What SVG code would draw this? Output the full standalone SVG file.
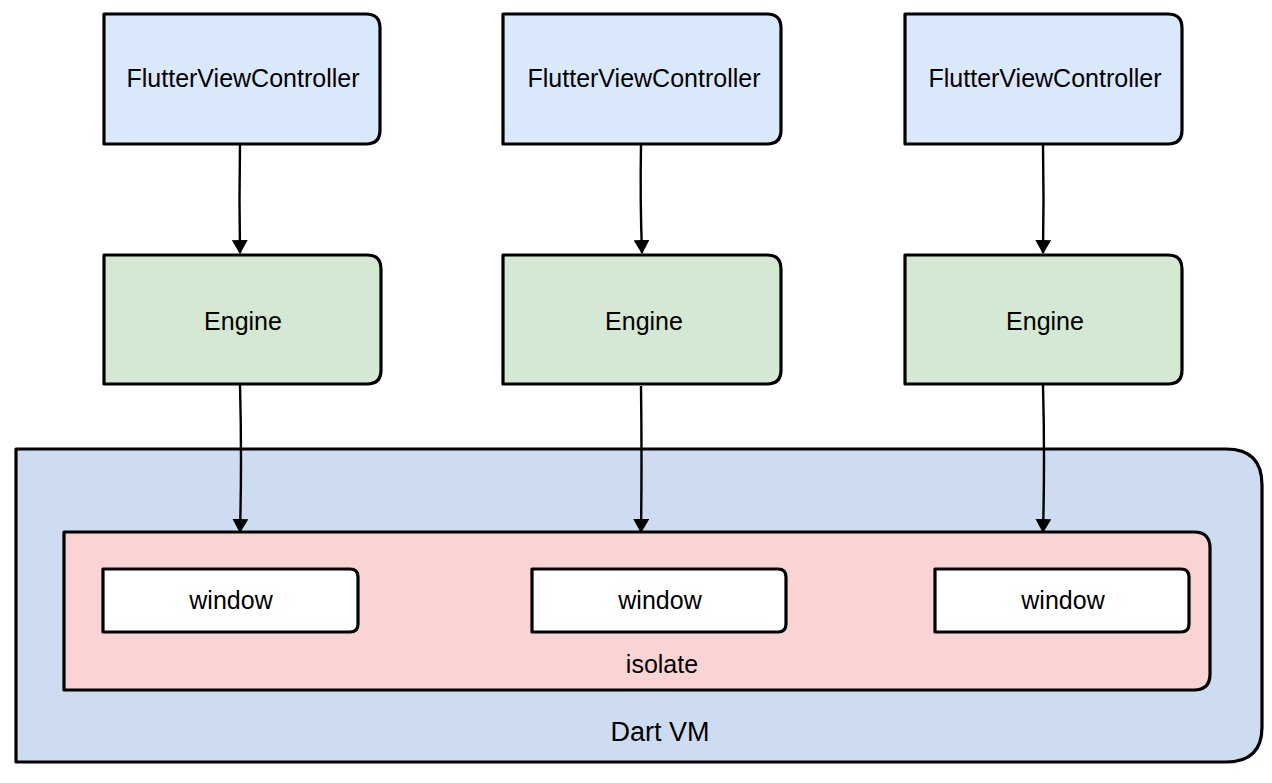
<svg xmlns="http://www.w3.org/2000/svg" width="1272" height="783" viewBox="0 0 1272 783">
<defs>
<marker id="ah" viewBox="0 0 14 16" refX="13" refY="8" markerWidth="14" markerHeight="16" markerUnits="userSpaceOnUse" orient="auto">
<path d="M0,0 L14,8 L0,16 Z" fill="#000"/>
</marker>
<style>
.box{stroke:#000;stroke-width:3.2;stroke-linejoin:round}
.fvc{fill:#dae8fc}
.eng{fill:#d5e8d4}
.vm{fill:#cddcf1}
.iso{fill:#fad4d4}
.win{fill:#fff}
.t{font-family:"Liberation Sans",Arial,sans-serif;font-size:25px;fill:#000;text-anchor:middle}
.c{stroke:#000;stroke-width:2.4;fill:none}
</style>
</defs>
<rect width="1272" height="783" fill="#fff"/>
<g id="dartvm">
<path class="box vm" d="M16,449 L1226,449 Q1262,449 1262,485 L1262,727 Q1262,762 1226,762 L16,762 Z"/>
<text class="t" x="660" y="741" style="font-size:27px">Dart VM</text>
</g>
<g id="isolate">
<path class="box iso" d="M64,532 L1194,532 Q1210,532 1210,548 L1210,674 Q1210,690 1194,690 L64,690 Z"/>
<text class="t" x="662" y="673">isolate</text>
</g>
<g id="window1">
<path class="box win" d="M103,569 L350,569 Q358,569 358,577 L358,624 Q358,632 350,632 L103,632 Z"/>
<text class="t" x="231" y="609">window</text>
</g>
<g id="window2">
<path class="box win" d="M532,569 L778,569 Q786,569 786,577 L786,624 Q786,632 778,632 L532,632 Z"/>
<text class="t" x="660" y="609">window</text>
</g>
<g id="window3">
<path class="box win" d="M935,569 L1181,569 Q1189,569 1189,577 L1189,624 Q1189,632 1181,632 L935,632 Z"/>
<text class="t" x="1063" y="609">window</text>
</g>
<g id="fvc1">
<path class="box fvc" d="M104,14 L366,14 Q380,14 380,28 L380,130 Q380,144 366,144 L104,144 Z"/>
<text class="t" x="243" y="87">FlutterViewController</text>
</g>
<g id="fvc2">
<path class="box fvc" d="M503,14 L767,14 Q781,14 781,28 L781,130 Q781,144 767,144 L503,144 Z"/>
<text class="t" x="644" y="87">FlutterViewController</text>
</g>
<g id="fvc3">
<path class="box fvc" d="M905,14 L1168,14 Q1182,14 1182,28 L1182,130 Q1182,144 1168,144 L905,144 Z"/>
<text class="t" x="1045" y="87">FlutterViewController</text>
</g>
<g id="engine1">
<path class="box eng" d="M104,255 L367,255 Q381,255 381,269 L381,370 Q381,384 367,384 L104,384 Z"/>
<text class="t" x="243" y="330">Engine</text>
</g>
<g id="engine2">
<path class="box eng" d="M503,255 L767,255 Q781,255 781,269 L781,370 Q781,384 767,384 L503,384 Z"/>
<text class="t" x="644" y="330">Engine</text>
</g>
<g id="engine3">
<path class="box eng" d="M905,255 L1168,255 Q1182,255 1182,269 L1182,370 Q1182,384 1168,384 L905,384 Z"/>
<text class="t" x="1045" y="330">Engine</text>
</g>
<g id="connectors">
<path class="c" marker-end="url(#ah)" d="M240,145 Q239,200 240,253"/>
<path class="c" marker-end="url(#ah)" d="M641,145 Q640,200 642,253"/>
<path class="c" marker-end="url(#ah)" d="M1043,145 Q1044,200 1043,253"/>
<path class="c" marker-end="url(#ah)" d="M240,385 Q242,460 240,532"/>
<path class="c" marker-end="url(#ah)" d="M641,386 Q642,460 641,532"/>
<path class="c" marker-end="url(#ah)" d="M1043,385 Q1045,460 1043,532"/>
</g>
</svg>
